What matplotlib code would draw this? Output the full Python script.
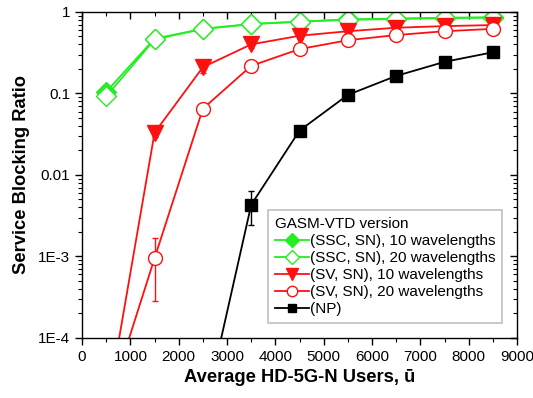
import matplotlib
matplotlib.use('Agg')
import matplotlib.pyplot as plt
from matplotlib.ticker import FixedLocator, FixedFormatter, LogLocator, NullFormatter, MultipleLocator

plt.rcParams['font.family'] = ['Liberation Sans', 'DejaVu Sans']

users = [500, 1500, 2500, 3500, 4500, 5500, 6500, 7500, 8500]

ssc_10 = [0.105, 0.47, 0.62, 0.71, 0.76, 0.81, 0.83, 0.85, 0.86]
ssc_10_err = [0.01, 0.05, 0.05, 0.05, 0.05, 0.05, 0.05, 0.05, 0.05]
ssc_20 = [0.092, 0.46, 0.62, 0.71, 0.76, 0.80, 0.82, 0.84, 0.85]
ssc_20_err = [0.01, 0.05, 0.05, 0.05, 0.05, 0.05, 0.05, 0.05, 0.05]

sv_10 = [1.2e-5, 0.033, 0.21, 0.40, 0.51, 0.58, 0.64, 0.67, 0.69]
sv_10_err = [0, 0.004, 0.03, 0.04, 0.04, 0.04, 0.04, 0.04, 0.04]
sv_20 = [1.3e-5, 0.00095, 0.065, 0.218, 0.35, 0.45, 0.52, 0.58, 0.62]
sv_20_lo = [0, 0.00067, 0.004, 0.015, 0.02, 0.03, 0.03, 0.03, 0.03]
sv_20_hi = [0, 0.00075, 0.004, 0.015, 0.02, 0.03, 0.03, 0.03, 0.03]

np_users = [2500, 3500, 4500, 5500, 6500, 7500, 8500]
np_vals = [1.0e-5, 0.0043, 0.035, 0.096, 0.164, 0.244, 0.32]
np_lo = [0, 0.0019, 0.005, 0.004, 0.005, 0.005, 0.005]
np_hi = [0, 0.0020, 0.005, 0.004, 0.005, 0.005, 0.005]

y_ticks = [1e-4, 1e-3, 1e-2, 1e-1, 1]
y_labels = ['1E-4', '1E-3', '0.01', '0.1', '1']

green = '#22ee22'
red = '#ff1010'

fig = plt.figure(figsize=(5.33, 3.98), dpi=100)
ax = fig.add_axes([0.154, 0.151, 0.816, 0.819])

kw = dict(capsize=2.5, elinewidth=1.0, linewidth=1.3)
series = []
series.append(ax.errorbar(users, ssc_10, yerr=ssc_10_err, color=green, marker='D', markersize=10,
                          mfc=green, mec=green, label='(SSC, SN), 10 wavelengths', **kw))
series.append(ax.errorbar(users, ssc_20, yerr=ssc_20_err, color=green, marker='D', markersize=10,
                          mfc='white', mec=green, label='(SSC, SN), 20 wavelengths', **kw))
series.append(ax.errorbar(users, sv_10, yerr=sv_10_err, color=red, marker='v', markersize=11,
                          mfc=red, mec=red, label='(SV, SN), 10 wavelengths', **kw))
series.append(ax.errorbar(users, sv_20, yerr=[sv_20_lo, sv_20_hi], color=red, marker='o', markersize=10,
                          mfc='white', mec=red, label='(SV, SN), 20 wavelengths', **kw))
series.append(ax.errorbar(np_users, np_vals, yerr=[np_lo, np_hi], color='black', marker='s', markersize=8.5,
                          mfc='black', mec='black', label='(NP)', **kw))

ax.set_yscale('log')
ax.set_xlim(0, 9000)
ax.set_ylim(1e-4, 1)
ax.yaxis.set_major_locator(FixedLocator(y_ticks))
ax.yaxis.set_major_formatter(FixedFormatter(y_labels))
ax.yaxis.set_minor_locator(LogLocator(base=10, subs=range(2, 10)))
ax.yaxis.set_minor_formatter(NullFormatter())
ax.xaxis.set_major_locator(MultipleLocator(1000))
ax.xaxis.set_minor_locator(MultipleLocator(500))

ax.tick_params(which='both', direction='out', top=True, right=True, labelsize=11)
ax.tick_params(which='major', length=5, width=1)
ax.tick_params(which='minor', length=3, width=0.8)
for t in ax.xaxis.get_ticklines(minor=False)[1::2] + ax.xaxis.get_ticklines(minor=True)[1::2]:
    t.set_marker(3)
for t in ax.yaxis.get_ticklines(minor=False)[1::2] + ax.yaxis.get_ticklines(minor=True)[1::2]:
    t.set_marker(0)
for s in ax.spines.values():
    s.set_linewidth(1.0)

ax.set_xlabel('Average HD-5G-N Users, \u016b', fontsize=13.2, fontweight='bold', labelpad=4)
ax.set_ylabel('Service Blocking Ratio', fontsize=13.2, fontweight='bold', labelpad=6)

handles = [s[0] for s in series]
labels = [s.get_label() for s in series]
leg = ax.legend(handles, labels, loc='lower right', bbox_to_anchor=(0.984, 0.022),
                title='GASM-VTD version', fontsize=11, title_fontsize=11, frameon=True,
                fancybox=False, edgecolor='#b0b0b0', handlelength=2.2, handletextpad=0.1,
                borderpad=0.45, labelspacing=0.2, markerscale=0.75)
leg._legend_box.align = 'left'
leg.get_frame().set_linewidth(1.2)

fig.savefig('out.png', dpi=100)
